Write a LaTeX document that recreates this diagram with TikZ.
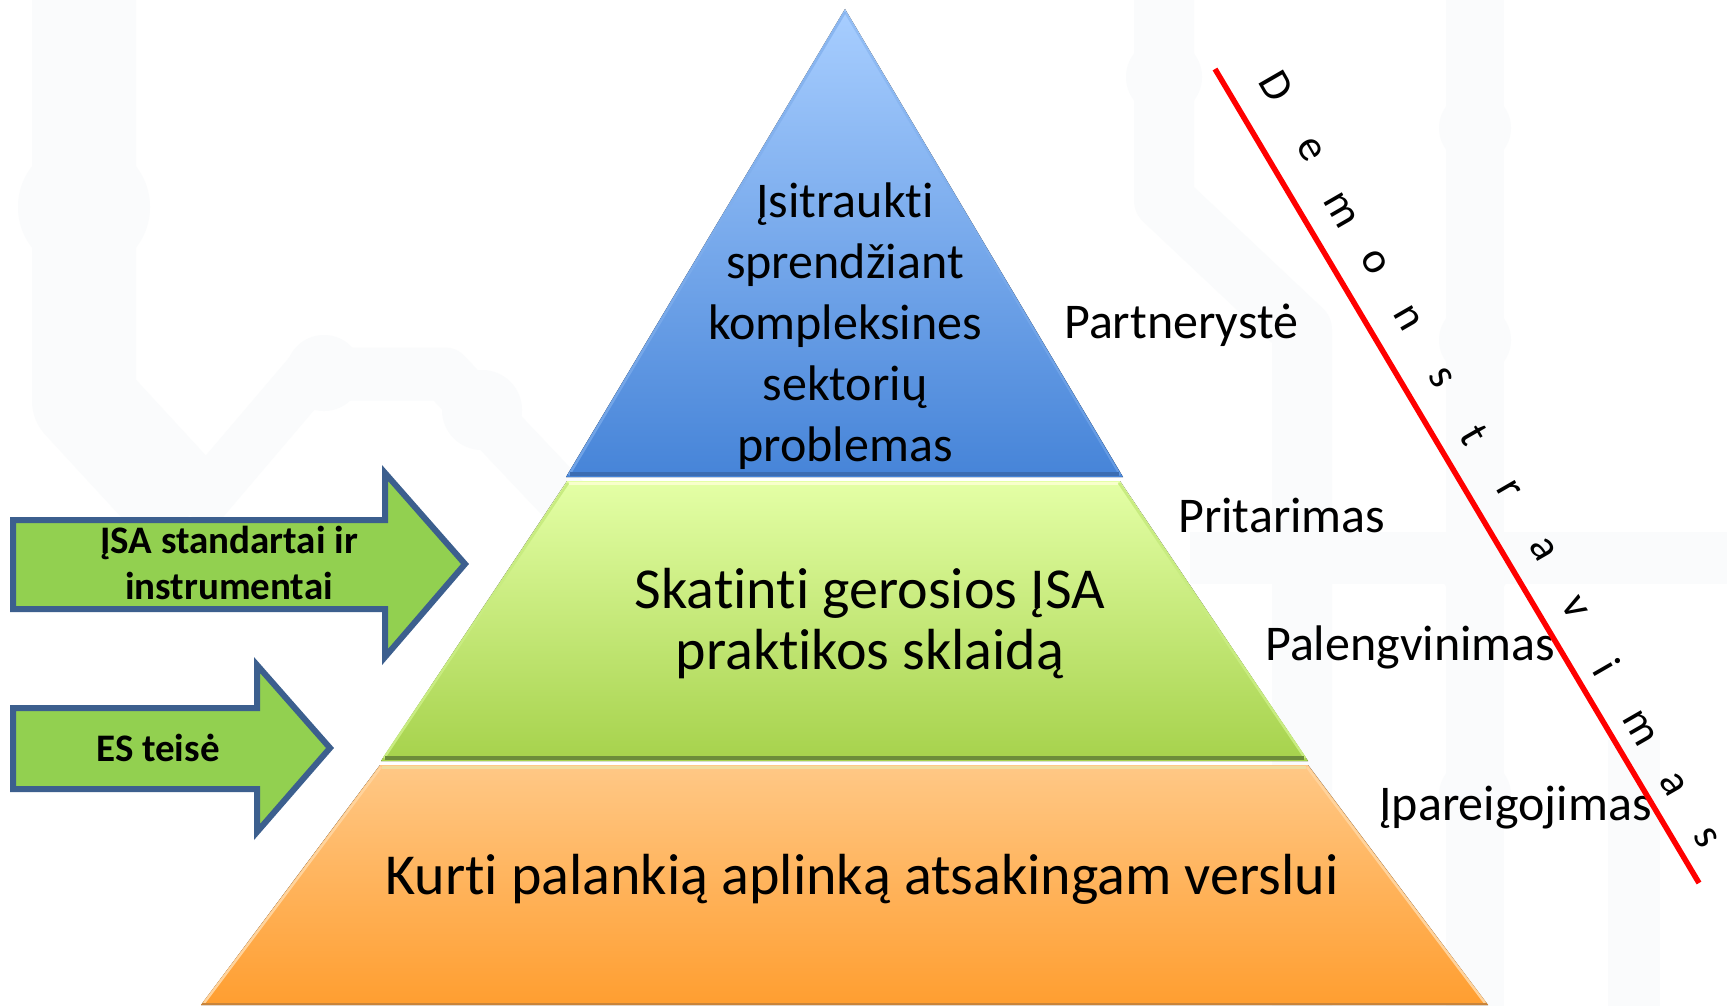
\documentclass[tikz,border=0pt]{standalone}
\usepackage{fontspec}
\setmainfont{Carlito}[Ligatures={NoCommon,NoRare,NoContextual}]
\definecolor{bluetop}{HTML}{A8CEFF}
\definecolor{bluebot}{HTML}{4684D8}
\definecolor{blueedge}{HTML}{3C6DB2}
\definecolor{bluehi}{HTML}{7FAEEC}
\definecolor{greentop}{HTML}{E4FFA6}
\definecolor{greenbot}{HTML}{A6D24C}
\definecolor{greenedge}{HTML}{6C8C3A}
\definecolor{greenhi}{HTML}{C8EC80}
\definecolor{greenlight}{HTML}{F8FFCC}
\definecolor{orangetop}{HTML}{FFC886}
\definecolor{orangebot}{HTML}{FF9E30}
\definecolor{orangeedge}{HTML}{C9843A}
\definecolor{orangehi}{HTML}{FFD39C}
\definecolor{orangelight}{HTML}{F0DC9E}
\definecolor{arrowfill}{HTML}{92D050}
\definecolor{arrowline}{HTML}{3C5F8E}
\definecolor{bgcol}{HTML}{FAFBFC}
\tikzset{
  bgband/.style={draw=bgcol, line join=round},
  bgbump/.style={fill=bgcol},
  layertext/.style={align=center, inner sep=0pt, text=black},
  sidelabel/.style={anchor=west, inner sep=0pt, font=\fontsize{50}{60}\selectfont},
  arrowshape/.style={draw=arrowline, fill=arrowfill, line width=6pt, line join=miter},
  arrowtext/.style={align=center, inner sep=0pt, font=\bfseries\fontsize{39}{46}\selectfont},
  demoletter/.style={inner sep=0pt, rotate=-60, font=\fontsize{44}{44}\selectfont},
}
\begin{document}
\begin{tikzpicture}[x=1pt,y=-1pt]
\useasboundingbox (0,0) rectangle (1727,1006);
\fill[white] (0,0) rectangle (1727,1006);

% faint background pattern
\draw[bgband, line width=104pt] (84,-60) -- (84,400) -- (190,515);
\fill[bgbump] (84,207) circle (66);
\draw[bgband, line width=53pt] (190,515) -- (310,374) -- (445,374) -- (640,580);
\fill[bgbump] (324,373) circle (38);
\fill[bgbump] (482,410) circle (40);
\draw[bgband, line width=60pt] (1164,-60) -- (1164,200) -- (1302,330) -- (1302,1060);
\fill[bgbump] (1164,77) circle (38);
\draw[bgband, line width=58pt] (1475,-60) -- (1475,1060);
\foreach \yy in {128,340,565,795} \fill[bgbump] (1475,\yy) circle (36);
\draw[bgband, line width=52pt] (1190,558) -- (1760,558);
\draw[bgband, line width=52pt] (1634,740) -- (1634,1060);

% pyramid layers
\fill[top color=bluetop, bottom color=bluebot] (845,9) -- (1123,477) -- (566,477) -- cycle;
\draw[bluehi, line width=2.5pt, opacity=0.7] (845,12) -- (569,475);
\draw[bluehi, line width=2pt, opacity=0.5] (845,12) -- (1120,475);
\draw[blueedge, line width=4pt] (570,474) -- (1119,474);
\fill[top color=greentop, bottom color=greenbot] (567,481) -- (1120,481) -- (1308,761) -- (381,761) -- cycle;
\draw[greenlight, line width=3pt] (569,483) -- (1118,483);
\draw[greenhi, line width=2.5pt] (568,483) -- (384,758);
\draw[greenhi, line width=2.5pt] (1119,483) -- (1305,758);
\draw[greenedge, line width=4pt] (385,758) -- (1304,758);
\fill[top color=orangetop, bottom color=orangebot] (380,765) -- (1308,765) -- (1488,1005) -- (201,1005) -- cycle;
\draw[orangelight, line width=3pt] (382,767) -- (1306,767);
\draw[orangehi, line width=2.5pt] (381,767) -- (204,1003);
\draw[orangehi, line width=2.5pt] (1307,767) -- (1485,1003);
\draw[orangeedge, line width=2pt] (202,1004) -- (1487,1004);

% layer texts
\node[layertext, font=\fontsize{50}{61}\selectfont] (top) at (845,326)
  {Įsitraukti\\sprendžiant\\kompleksines\\sektorių\\problemas};
\node[layertext, font=\fontsize{58}{61}\selectfont] (middle) at (870,624)
  {Skatinti gerosios ĮSA\\praktikos sklaidą};
\node[layertext, font=\fontsize{58}{61}\selectfont] (bottom) at (862,879)
  {Kurti palankią aplinką atsakingam verslui};

% side labels
\node[sidelabel] (partner) at (1064,325) {Partnerystė};
\node[sidelabel] (pritar) at (1178,515) {Pritarimas};
\node[sidelabel] (paleng) at (1265,647) {Palengvinimas};
\node[sidelabel] (ipar) at (1379,808) {Įpareigojimas};

% arrows
\path[arrowshape] (13,520) -- (385,520) -- (385,473) -- (465,564) -- (385,657) -- (385,609) -- (13,609) -- cycle;
\node[arrowtext] (arrowA) at (229,563) {ĮSA standartai ir\\instrumentai};
\path[arrowshape] (13,708) -- (257,708) -- (257,665) -- (330,748) -- (257,832) -- (257,789) -- (13,789) -- cycle;
\node[arrowtext] (arrowB) at (158,748) {ES teisė};

% red line
\coordinate (redA) at (1215,69);
\coordinate (redB) at (1699,883);
\draw[red, line width=5.5pt] (redA) -- (redB);

% Demonstravimas
\node[demoletter] (d1) at (1276,86) {D};
\node[demoletter] (d2) at (1310,150) {e};
\node[demoletter] (d3) at (1341,210) {m};
\node[demoletter] (d4) at (1374,262) {o};
\node[demoletter] (d5) at (1408,318) {n};
\node[demoletter] (d6) at (1441,378) {s};
\node[demoletter] (d7) at (1474,435) {t};
\node[demoletter] (d8) at (1509,490) {r};
\node[demoletter] (d9) at (1543,549) {a};
\node[demoletter] (d10) at (1575,608) {v};
\node[demoletter] (d11) at (1607,667) {i};
\node[demoletter] (d12) at (1640,728) {m};
\node[demoletter] (d13) at (1673,784) {a};
\node[demoletter] (d14) at (1706,838) {s};
\end{tikzpicture}
\end{document}
